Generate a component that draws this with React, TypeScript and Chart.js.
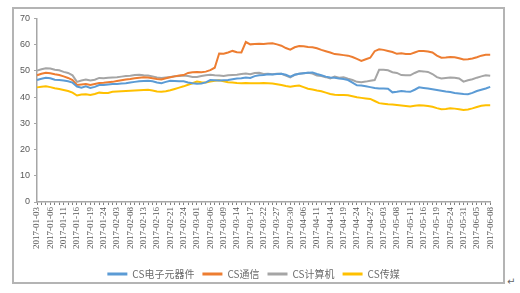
import React, { useEffect, useRef } from "react";
import { Chart, registerables } from "chart.js";
Chart.register(...registerables);

const dates = [
  "2017-01-03","2017-01-04","2017-01-05","2017-01-06","2017-01-09","2017-01-10","2017-01-11","2017-01-12","2017-01-13","2017-01-16",
  "2017-01-17","2017-01-18","2017-01-19","2017-01-20","2017-01-23","2017-01-24","2017-01-25","2017-01-26",
  "2017-02-03","2017-02-06","2017-02-07","2017-02-08","2017-02-09","2017-02-10","2017-02-13","2017-02-14","2017-02-15","2017-02-16",
  "2017-02-17","2017-02-20","2017-02-21","2017-02-22","2017-02-23","2017-02-24","2017-02-27","2017-02-28",
  "2017-03-01","2017-03-02","2017-03-03","2017-03-06","2017-03-07","2017-03-08","2017-03-09","2017-03-10","2017-03-13","2017-03-14",
  "2017-03-15","2017-03-16","2017-03-17","2017-03-20","2017-03-21","2017-03-22","2017-03-23","2017-03-24","2017-03-27","2017-03-28",
  "2017-03-29","2017-03-30","2017-03-31",
  "2017-04-05","2017-04-06","2017-04-07","2017-04-10","2017-04-11","2017-04-12","2017-04-13","2017-04-14","2017-04-17","2017-04-18",
  "2017-04-19","2017-04-20","2017-04-21","2017-04-24","2017-04-25","2017-04-26","2017-04-27","2017-04-28",
  "2017-05-02","2017-05-03","2017-05-04","2017-05-05","2017-05-08","2017-05-09","2017-05-10","2017-05-11","2017-05-12","2017-05-15",
  "2017-05-16","2017-05-17","2017-05-18","2017-05-19","2017-05-22","2017-05-23","2017-05-24","2017-05-25","2017-05-26","2017-05-31",
  "2017-06-01","2017-06-02","2017-06-05","2017-06-06","2017-06-07","2017-06-08"
];

const seriesNames = ["CS电子元器件", "CS通信", "CS计算机", "CS传媒"];

const dianzi = [
  46.5,47.0,47.4,47.2,46.6,46.5,46.3,46.0,45.5,44.0,43.6,44.1,43.5,43.9,44.6,44.6,44.8,45.0,45.0,45.2,
  45.3,45.6,45.8,46.0,46.1,46.2,46.0,45.6,45.3,45.8,46.2,46.1,46.0,46.0,45.6,45.3,45.1,45.2,45.6,46.5,
  46.4,46.3,46.4,46.5,46.8,47.1,47.2,47.5,47.3,48.0,48.3,48.4,48.7,48.6,48.8,48.9,48.5,47.8,48.5,48.9,
  49.1,49.3,49.4,48.8,48.3,47.8,47.5,47.4,47.1,46.9,46.5,45.5,44.5,44.4,44.1,43.8,43.5,43.3,43.3,43.2,
  41.8,42.0,42.3,42.1,42.0,42.8,43.7,43.5,43.3,43.0,42.7,42.4,42.1,41.9,41.6,41.4,41.2,41.1,41.6,42.3,
  42.8,43.3,43.9
];

const tongxin = [
  48.3,48.9,49.3,49.1,48.7,48.4,47.9,47.3,46.5,44.6,44.8,45.0,44.6,45.0,45.4,45.5,45.7,45.8,46.1,46.4,
  46.7,46.9,47.2,47.4,47.6,47.5,47.2,46.9,46.7,47.2,47.6,47.9,48.2,48.4,49.2,49.5,49.6,49.5,49.7,50.3,
  51.2,56.6,56.5,57.0,57.6,57.1,57.0,61.0,60.1,60.2,60.3,60.2,60.4,60.5,60.1,59.6,58.7,58.1,59.0,59.5,
  59.4,59.1,59.0,58.6,58.0,57.5,57.0,56.4,56.2,56.0,55.8,55.3,54.6,53.8,54.4,55.0,57.5,58.2,58.0,57.6,
  57.2,56.5,56.7,56.4,56.4,57.0,57.6,57.6,57.4,57.0,55.8,55.0,55.1,55.3,55.2,54.8,54.3,54.4,54.7,55.2,
  55.8,56.1,56.1
];

const jisuanji = [
  50.1,50.6,51.0,50.9,50.4,50.2,49.6,49.2,48.3,45.8,46.3,46.7,46.3,46.6,47.3,47.2,47.4,47.5,47.6,47.8,
  48.0,48.1,48.4,48.5,48.3,48.2,47.9,47.5,47.3,47.5,47.7,47.9,48.0,48.2,48.0,47.7,47.7,48.0,48.3,48.5,
  48.3,48.2,48.0,48.3,48.4,48.5,48.8,49.0,48.7,49.2,49.3,48.8,48.9,48.7,48.9,48.9,48.2,47.5,48.5,48.9,
  49.1,49.3,49.0,48.2,48.0,47.6,47.1,47.8,47.4,47.6,47.0,46.5,45.8,45.7,45.9,46.2,46.5,50.4,50.4,50.2,
  49.5,49.2,48.4,48.3,48.3,49.2,49.9,49.8,49.6,48.8,47.6,47.1,47.3,47.5,47.4,47.1,45.9,46.4,46.8,47.4,
  47.9,48.3,48.1
];

const chuanmei = [
  43.7,43.9,44.1,43.8,43.4,43.1,42.7,42.3,41.7,40.6,41.0,41.1,40.8,41.2,41.7,41.6,41.6,42.0,42.1,42.2,
  42.3,42.4,42.5,42.6,42.7,42.8,42.5,42.1,42.0,42.2,42.6,43.1,43.6,44.1,44.7,45.3,45.9,45.7,45.6,45.9,
  46.2,46.4,46.0,45.7,45.6,45.4,45.3,45.4,45.3,45.3,45.3,45.4,45.3,45.2,44.9,44.6,44.2,43.9,44.2,44.4,
  43.8,43.2,42.9,42.5,42.2,41.7,41.2,40.9,40.8,40.8,40.7,40.3,39.9,39.7,39.5,39.3,38.5,37.7,37.5,37.3,
  37.2,37.0,36.8,36.6,36.4,36.7,36.9,36.8,36.6,36.3,35.8,35.4,35.5,35.7,35.6,35.4,35.1,35.3,35.7,36.2,
  36.7,36.9,36.9
];

const colors = ["#5B9BD5", "#ED7D31", "#A5A5A5", "#FFC000"];
const yMin = 0;
const yMax = 70;
const yStep = 10;
const labelEvery = 3;

export default function App() {
  const ref = useRef<HTMLCanvasElement>(null);

  useEffect(() => {
    if (!ref.current) return;
    const all = [dianzi, tongxin, jisuanji, chuanmei];
    const chart = new Chart(ref.current, {
      type: "line",
      data: {
        labels: dates,
        datasets: all.map((d, i) => ({
          label: seriesNames[i],
          data: d,
          borderColor: colors[i],
          backgroundColor: colors[i],
          borderWidth: 2,
          pointRadius: 0,
          tension: 0,
          fill: false,
        })),
      },
      options: {
        responsive: false,
        animation: false,
        layout: { padding: { top: 8, right: 10, left: 0, bottom: -7 } },
        plugins: {
          tooltip: { enabled: false },
          legend: {
            position: "bottom",
            labels: {
              boxWidth: 20,
              boxHeight: 3,
              padding: 8,
              color: "#6b6b6b",
              font: { family: "'Noto Sans CJK SC', sans-serif", size: 10 },
              generateLabels: (c: any) =>
                (Chart.defaults.plugins.legend.labels as any)
                  .generateLabels(c)
                  .map((l: any) => ({ ...l, lineWidth: 0, fillStyle: l.strokeStyle })),
            },
          },
        },
        scales: {
          x: {
            offset: false,
            grid: {
              drawOnChartArea: false,
              drawTicks: true,
              tickLength: 3,
              tickColor: "#7f7f7f",
            },
            border: { display: true, color: "#a6a6a6", width: 1.5 },
            ticks: {
              autoSkip: false,
              maxRotation: 90,
              minRotation: 90,
              padding: 2,
              color: "#595959",
              font: { family: "'Liberation Serif', serif", size: 9 },
              callback: (_v: any, idx: number) => (idx % labelEvery === 0 ? dates[idx] : ""),
            },
            afterFit: (s: any) => {
              s.height = 59;
            },
          },
          y: {
            min: yMin,
            max: yMax,
            grid: { drawOnChartArea: false, drawTicks: true, tickLength: 3, tickColor: "#a6a6a6" },
            border: { display: true, color: "#a6a6a6", width: 1.5 },
            ticks: {
              stepSize: yStep,
              padding: 4,
              color: "#595959",
              font: { family: "'Liberation Sans', sans-serif", size: 9 },
            },
            afterFit: (s: any) => {
              s.width = 23;
            },
          },
        },
      },
    });
    return () => chart.destroy();
  }, []);

  return (
    <div style={{ position: "absolute", left: 0, top: 0, width: 520, height: 293, background: "#fff" }}>
      <div
        style={{
          position: "absolute",
          left: 12,
          top: 7,
          width: 493,
          height: 277,
          boxSizing: "border-box",
          border: "2px solid #b4b4b4",
        }}
      >
        <canvas ref={ref} width={489} height={273} style={{ display: "block" }} />
      </div>
      <span
        style={{
          position: "absolute",
          left: 507,
          top: 276,
          fontSize: 10,
          color: "#666",
          fontFamily: "'DejaVu Sans', sans-serif",
        }}
      >
        ↵
      </span>
    </div>
  );
}
